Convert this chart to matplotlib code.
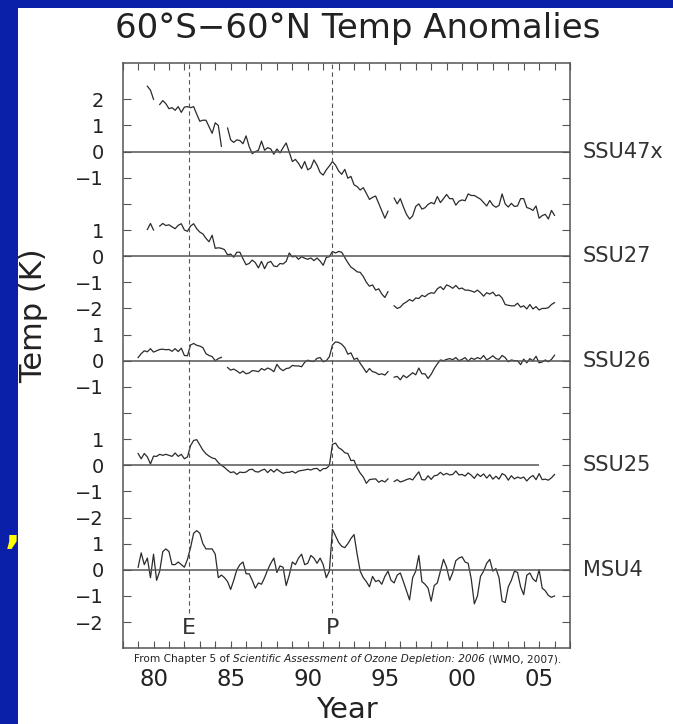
import numpy as np
import matplotlib
matplotlib.use("Agg")
import matplotlib.pyplot as plt
import matplotlib.transforms as mtransforms
from matplotlib.ticker import FixedLocator, MultipleLocator

plt.rcParams["font.family"] = ["DejaVu Sans"]
nan = np.nan

# time axis, one reading every 0.2 yr (1979.0 .. 2006.0)
years = np.round(np.arange(1979.0, 2006.01, 0.2), 1)

# anomalies (K), 5 values per year
ssu47x = [nan, nan, nan, 2.5, 2.35,
          2.0, nan, 1.8, 1.95, 1.83,
          1.64, 1.68, 1.58, 1.72, 1.5,
          1.7, 1.72, 1.68, 1.72, 1.43,
          1.16, 1.2, 1.2, 0.95, 0.7,
          1.1, 1.0, 0.2, nan, 0.9,
          0.45, 0.35, 0.45, 0.42, 0.3,
          0.6, 0.19, -0.08, 0.0, 0.05,
          0.4, 0.05, 0.15, 0.1, -0.1,
          0.1, -0.05, 0.15, 0.33, -0.02,
          -0.38, -0.3, -0.45, -0.65, -0.38,
          -0.7, -0.62, -0.32, -0.52, -0.8,
          -0.9, -0.7, -0.55, -0.38, -0.52,
          -0.74, -0.87, -0.68, -1.02, -0.95,
          -1.27, -1.34, -1.47, -1.38, -1.6,
          -1.83, -1.75, -1.7, -1.98, -2.25,
          -2.55, -2.28, nan, -1.78, -2.0,
          -1.8, -2.12, -2.4, -2.58, -2.46,
          -2.1, -2.0, -2.2, -2.15, -2.02,
          -1.95, -2.0, -1.72, -1.95, -1.8,
          -1.64, -1.8, -1.8, -2.05, -1.9,
          -1.85, -1.88, -1.62, -1.68, -1.68,
          -1.75, -1.82, -1.95, -2.08, -1.87,
          -2.05, -2.13, -2.06, -1.62, -2.0,
          -2.12, -1.98, -2.1, -2.08, -1.8,
          -1.8, -2.14, -2.18, -2.25, -2.08,
          -2.55, -2.45, -2.4, -2.58, -2.25,
          -2.44]

ssu27 = [nan, nan, nan, 1.02, 1.25,
         1.0, nan, 1.15, 1.25, 1.17,
         1.2, 1.12, 1.05, 1.18, 1.24,
         1.0, 0.95, 1.15, 1.24, 1.05,
         0.92, 0.85, 0.68, 0.55, 0.8,
         0.3, 0.32, 0.3, 0.25, 0.05,
         0.08, -0.04, 0.15, 0.15, -0.1,
         -0.33, -0.28, -0.15, -0.25, -0.45,
         -0.2, -0.48, -0.25, -0.2, -0.38,
         -0.4, -0.28, -0.3, -0.2, 0.12,
         -0.03, 0.0, -0.12, -0.02, -0.08,
         -0.12, -0.07, -0.17, -0.07, -0.19,
         -0.35, -0.05, -0.02, 0.18, 0.12,
         0.18, 0.15, -0.05, -0.25, -0.42,
         -0.5, -0.6, -0.62, -0.78, -1.0,
         -1.15, -1.1, -1.3, -1.25, -1.45,
         -1.58, -1.36, nan, -1.9, -2.0,
         -1.95, -1.82, -1.75, -1.66, -1.72,
         -1.6, -1.62, -1.5, -1.55, -1.45,
         -1.4, -1.42, -1.25, -1.17, -1.28,
         -1.1, -1.15, -1.23, -1.12, -1.25,
         -1.22, -1.3, -1.3, -1.33, -1.38,
         -1.3, -1.4, -1.53, -1.4, -1.45,
         -1.38, -1.52, -1.48, -1.6, -1.85,
         -1.88, -1.9, -1.9, -1.8, -1.95,
         -1.9, -2.02, -1.85, -2.02, -1.93,
         -2.06, -2.0, -2.0, -1.97, -1.85,
         -1.78]

ssu26 = [0.12, 0.27, 0.38, 0.34, 0.46,
         0.33, 0.38, 0.43, 0.44, 0.42,
         0.43, 0.36, 0.46, 0.35, 0.48,
         0.2, 0.19, 0.6, 0.66, 0.59,
         0.56, 0.5, 0.27, 0.2, 0.16,
         0.0, 0.08, 0.13, nan, -0.26,
         -0.36, -0.32, -0.39, -0.48, -0.4,
         -0.5, -0.47, -0.38, -0.39, -0.42,
         -0.3, -0.36, -0.28, -0.33, -0.42,
         -0.14, -0.3, -0.38, -0.3, -0.28,
         -0.18, -0.2, -0.2, -0.23, -0.06,
         0.02, -0.02, -0.03, 0.09, 0.12,
         -0.04, 0.0, 0.15, 0.6, 0.72,
         0.7, 0.63, 0.5, 0.25, 0.3,
         0.05, 0.1, -0.1, -0.27, -0.45,
         -0.3, -0.42, -0.45, -0.53, -0.5,
         -0.55, -0.42, nan, -0.63, -0.6,
         -0.73, -0.56, -0.65, -0.56, -0.46,
         -0.54, -0.28, -0.5, -0.5, -0.68,
         -0.52, -0.3, -0.12, 0.03, 0.0,
         0.05, 0.08, 0.04, 0.12, 0.0,
         0.05, 0.12, -0.02, 0.1, 0.05,
         0.12, 0.07, 0.2, 0.03, 0.1,
         0.19, 0.08, 0.05, 0.2, 0.12,
         -0.04, 0.03, 0.0, 0.0, -0.15,
         0.06, -0.08, 0.08, 0.0, 0.17,
         -0.08, -0.05, 0.03, -0.04, 0.05,
         0.21]

ssu25 = [0.45, 0.25, 0.45, 0.32, 0.05,
         0.35, 0.34, 0.42, 0.38, 0.42,
         0.38, 0.34, 0.47, 0.34, 0.42,
         0.25, 0.32, 0.75, 0.95, 0.98,
         0.78, 0.58, 0.44, 0.35, 0.28,
         0.25, 0.1, 0.0, -0.08, -0.19,
         -0.28, -0.25, -0.35, -0.26, -0.28,
         -0.26, -0.17, -0.15, -0.24, -0.26,
         -0.19, -0.15, -0.28, -0.16, -0.26,
         -0.15, -0.24, -0.31, -0.27, -0.27,
         -0.23, -0.3, -0.22, -0.2, -0.18,
         -0.15, -0.18, -0.13, -0.12, -0.22,
         -0.13, -0.12, -0.01, 0.8, 0.85,
         0.67, 0.6, 0.48, 0.45, 0.18,
         0.19, -0.1, -0.3, -0.45, -0.69,
         -0.55, -0.53, -0.52, -0.65, -0.58,
         -0.64, -0.52, nan, -0.62, -0.55,
         -0.64, -0.6, -0.55, -0.51, -0.56,
         -0.4, -0.25, -0.55, -0.56, -0.4,
         -0.54, -0.4, -0.38, -0.27, -0.37,
         -0.31, -0.37, -0.35, -0.22, -0.37,
         -0.35, -0.41, -0.29, -0.38, -0.5,
         -0.33, -0.43, -0.33, -0.49, -0.36,
         -0.53, -0.42, -0.53, -0.32, -0.38,
         -0.57, -0.4, -0.52, -0.45, -0.5,
         -0.45, -0.6, -0.47, -0.39, -0.55,
         -0.32, -0.55, -0.53, -0.57, -0.48,
         -0.35]

msu4 = [0.1, 0.65, 0.2, 0.45, -0.3,
        0.6, -0.4, -0.05, 0.7, 0.8,
        0.7, 0.2, 0.2, 0.3, 0.2,
        0.1, 0.4, 0.85, 1.4, 1.5,
        1.4, 1.0, 0.8, 0.8, 0.8,
        0.6, -0.3, -0.2, -0.3, -0.45,
        -0.75, -0.4, 0.0, 0.2, 0.3,
        -0.15, -0.15, -0.4, -0.7, -0.5,
        -0.55, -0.3, 0.0, 0.25, 0.45,
        -0.1, 0.15, 0.1, -0.6, -0.2,
        0.3, 0.2, 0.45, 0.6, 0.2,
        0.25, 0.55, 0.45, 0.25, 0.45,
        0.2, -0.3, -0.05, 1.55, 1.3,
        1.05, 0.9, 0.85, 1.0, 1.2,
        1.35, 0.6, -0.05, -0.3, -0.45,
        -0.65, -0.25, -0.45, -0.4, -0.55,
        -0.25, -0.05, -0.4, -0.5, -0.2,
        -0.12, -0.45, -0.8, -1.15, -0.3,
        -0.05, 0.55, -0.45, -0.55, -0.7,
        -1.2, -0.6, -0.5, -0.05, 0.4,
        0.1, -0.4, -0.1, 0.35, 0.45,
        0.5, 0.3, 0.25, -0.35, -1.3,
        -1.0, -0.25, -0.05, 0.25, 0.4,
        -0.05, 0.05, -0.3, -1.2, -1.25,
        -0.65, -0.4, -0.05, -0.1, -0.65,
        -0.95, -0.21, -0.12, -0.35, -0.45,
        0.0, -0.7, -0.8, -0.98, -1.05,
        -1.0]

series = [ssu47x, ssu27, ssu26, ssu25, msu4]
series_names = ["SSU47x", "SSU27", "SSU26", "SSU25", "MSU4"]
offsets = [16, 12, 8, 4, 0]
zero_end = [2007, 2007, 2007, 2005, 2007]

ytick_vals = list(range(-2, 19))
ytick_labels = ["\u22122", "\u22121", "0", "1",
                "\u22122", "\u22121", "0", "1", "",
                "\u22121", "0", "1",
                "\u22122", "\u22121", "0", "1", "",
                "\u22121", "0", "1", "2"]
xtick_years = [1980, 1985, 1990, 1995, 2000, 2005]
xtick_labels = ["80", "85", "90", "95", "00", "05"]

event_labels = ["E", "P"]
event_years = [1982.3, 1991.6]

credit = [("From Chapter 5 of ", "normal"),
          ("Scientific Assessment of Ozone Depletion: 2006", "italic"),
          (" (WMO, 2007).", "normal")]

ink = "#222222"
grey = "#555555"

fig = plt.figure(figsize=(6.73, 7.24), dpi=100)
fig.patch.set_facecolor("#0a20a8")
fig.add_artist(plt.Rectangle((18 / 673, 0), 1, 1 - 8 / 724, transform=fig.transFigure,
                             facecolor="white", edgecolor="none", zorder=-10))

ax = fig.add_axes([0.1823, 0.1046, 0.6646, 0.8088])
ax.set_xlim(1978, 2007)
ax.set_ylim(-3, 19.4)

for name, vals, off, xend in zip(series_names, series, offsets, zero_end):
    ax.plot(years, np.array(vals, dtype=float) + off, color="#2b2b2b", lw=0.9)
    ax.hlines(off, 1978, xend, color=grey, lw=1.1)

trans = mtransforms.blended_transform_factory(ax.transAxes, ax.transData)
for name, off in zip(series_names, offsets):
    ax.text(1.029, off, name, transform=trans, ha="left", va="center",
            fontsize=15, color="#333333", clip_on=False)

ax.vlines(event_years, -1.65, 19.4, colors=grey, lw=0.8, linestyles=(0, (4, 3)))
for lbl, yr in zip(event_labels, event_years):
    ax.text(yr, -2.23, lbl, ha="center", va="center", fontsize=16, color="#333333")

ax.xaxis.set_major_locator(FixedLocator(xtick_years))
ax.set_xticklabels(xtick_labels)
ax.xaxis.set_minor_locator(MultipleLocator(1))
ax.yaxis.set_major_locator(FixedLocator(ytick_vals))
ax.set_yticklabels(ytick_labels)

ax.tick_params(axis="x", which="both", direction="in", top=True, length=5, width=0.8,
               color=grey, labelcolor=ink, labelsize=16.5, pad=14)
ax.tick_params(axis="y", which="both", direction="in", right=True, length=6, width=0.8,
               color=grey, labelcolor=ink, labelsize=14, pad=13.5)
for sp in ax.spines.values():
    sp.set_color(grey)
    sp.set_linewidth(1.1)

fig.text(0.532, 0.948, "60\u00b0S\u221260\u00b0N Temp Anomalies", ha="center", va="baseline",
         fontsize=24.5, color=ink)
fig.text(0.5147, 0.0, "Year", ha="center", va="bottom", fontsize=21, color=ink)
fig.text(0.0505, 0.5635, "Temp (K)", rotation=90, ha="center", va="center", fontsize=22, color=ink)
fig.text(0.007, 0.25, ",", ha="left", va="baseline", fontsize=30, fontweight="bold", color="#ffff00")

# credit line: plain / italic / plain pieces laid out side by side, centred
renderer = fig.canvas.get_renderer()
pieces = [fig.text(0, 0.0856, txt, fontstyle=st, fontsize=7.6, color=ink, va="baseline")
          for txt, st in credit]
widths = [p.get_window_extent(renderer).width for p in pieces]
x0 = 0.516 * fig.bbox.width - sum(widths) / 2
for p, w in zip(pieces, widths):
    p.set_x(x0 / fig.bbox.width)
    x0 += w

fig.savefig("out.png", dpi=100, facecolor=fig.get_facecolor())
